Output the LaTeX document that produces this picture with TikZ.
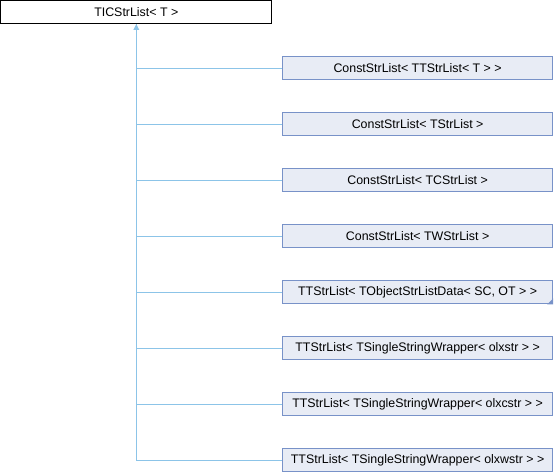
\documentclass[tikz,border=0pt]{standalone}
\usepackage{fontspec}
\setmainfont{Liberation Sans}
\usetikzlibrary{arrows.meta}
\definecolor{edgeblue}{RGB}{140,196,232}
\definecolor{boxborder}{RGB}{120,146,200}
\definecolor{boxfill}{RGB}{232,236,245}
\begin{document}
\begin{tikzpicture}[x=1pt,y=-1pt,
  base/.style={draw=black,line width=1pt,fill=white,minimum width=271pt,minimum height=23.3pt,inner sep=0pt,font=\fontsize{12.4}{14}\selectfont},
  child/.style={draw=boxborder,line width=1pt,fill=boxfill,minimum width=270pt,minimum height=23.3pt,inner sep=0pt,font=\fontsize{12.4}{14}\selectfont},
  link/.style={draw=edgeblue,line width=1pt}]
\useasboundingbox (0,0) rectangle (554,472);
\node[base] (root) at (136.3,11.8) {TICStrList< T >};
\node[child] (c1) at (417.6,68.3) {ConstStrList< TTStrList< T > >};
\node[child] (c2) at (417.6,124.3) {ConstStrList< TStrList >};
\node[child] (c3) at (417.6,180.3) {ConstStrList< TCStrList >};
\node[child] (c4) at (417.6,236.3) {ConstStrList< TWStrList >};
\node[child] (c5) at (417.6,292.3) {TTStrList< TObjectStrListData< SC, OT > >};
\node[child] (c6) at (417.6,348.3) {TTStrList< TSingleStringWrapper< olxstr > >};
\node[child] (c7) at (417.6,404.3) {TTStrList< TSingleStringWrapper< olxcstr > >};
\node[child] (c8) at (417.6,460.3) {TTStrList< TSingleStringWrapper< olxwstr > >};
\fill[boxborder] (c5.south east) -- ++(0,-6) -- ++(-6,6) -- cycle;
\coordinate (jn) at (root.south |- c8.west);
\foreach \c in {c1,c2,c3,c4,c5,c6,c7} {
  \draw[link] (root.south |- \c.west) -- (\c.west);
}
\draw[link] (c8.west) -- (jn) -- (root.south);
\fill[edgeblue] (root.south) -- ++(-3,6) -- ++(6,0) -- cycle;
\end{tikzpicture}
\end{document}
